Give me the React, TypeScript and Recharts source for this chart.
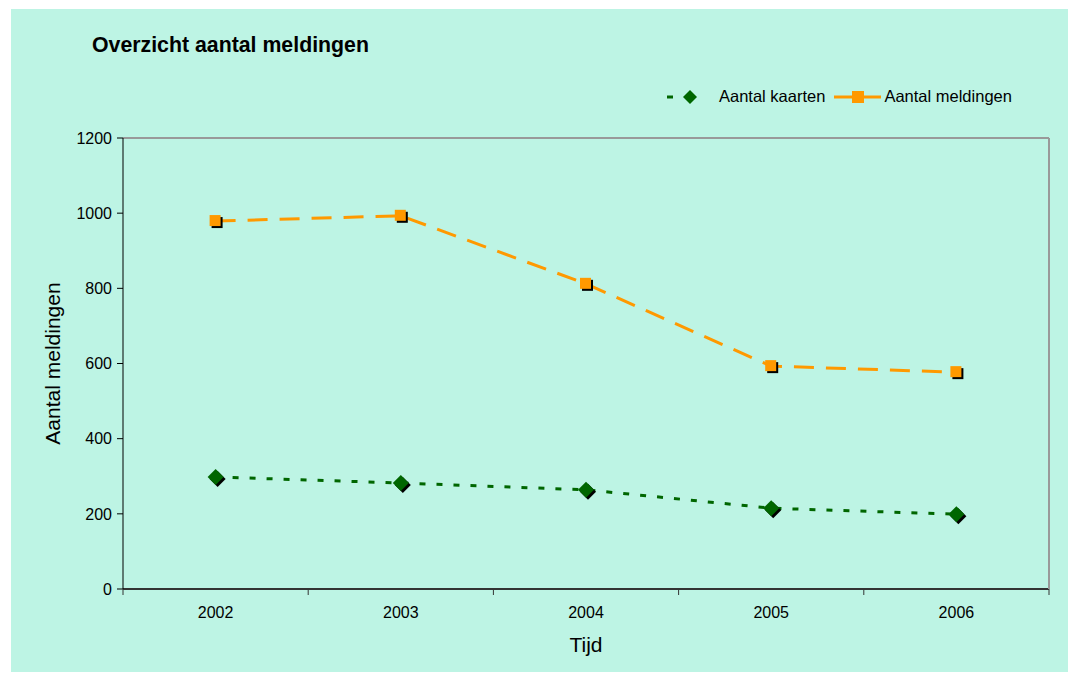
import { LineChart, Line, XAxis, YAxis, CartesianGrid, ReferenceLine, Label } from "recharts";

const years = ["2002", "2003", "2004", "2005", "2006"];
const kaarten = [298, 282, 264, 215, 199];
const meldingen = [979, 993, 812, 593, 577];
const yTicks = [0, 200, 400, 600, 800, 1000, 1200];

const data = years.map((year, i) => ({
  year,
  kaarten: kaarten[i],
  meldingen: meldingen[i],
}));

const W = 1057;
const H = 663;
const M = { top: 129, right: 18, left: 0, bottom: 0 };
const Y_W = 112;
const X_H = 83;
const band = (W - M.left - M.right - Y_W - 1) / years.length;
const font = "'Liberation Sans', Arial, sans-serif";

const SquareDot = (props: any) => {
  const { cx, cy } = props;
  if (cx == null || cy == null) return null;
  return (
    <g>
      <rect x={cx - 4} y={cy - 4} width={11} height={11} fill="#000" />
      <rect x={cx - 6} y={cy - 6} width={11} height={11} fill="#FF9900" />
    </g>
  );
};

const DiamondDot = (props: any) => {
  const { cx, cy } = props;
  if (cx == null || cy == null) return null;
  const d = (x: number, y: number) => `M${x} ${y - 8}L${x + 8} ${y}L${x} ${y + 8}L${x - 8} ${y}Z`;
  return (
    <g>
      <path d={d(cx + 2, cy + 2)} fill="#000" />
      <path d={d(cx, cy)} fill="#006600" />
    </g>
  );
};

const YearTick = (props: any) => {
  const { x, y, payload, index } = props;
  const top = y - 8;
  return (
    <g>
      <line x1={x - band / 2} x2={x - band / 2} y1={top} y2={top + 6} stroke="#333" />
      {index === years.length - 1 && (
        <line x1={x + band / 2} x2={x + band / 2} y1={top} y2={top + 6} stroke="#333" />
      )}
      <text x={x} y={y + 21} textAnchor="middle" fontSize={16} fill="#000" fontFamily={font}>
        {payload.value}
      </text>
    </g>
  );
};

const LegendBox = () => (
  <div
    style={{
      position: "absolute",
      left: 655,
      top: 78,
      display: "flex",
      alignItems: "center",
      fontFamily: font,
      fontSize: 16.5,
      color: "#000",
      whiteSpace: "nowrap",
    }}
  >
    <svg width={44} height={16}>
      <line x1={1} x2={44} y1={8} y2={8} stroke="#006600" strokeWidth={3} strokeDasharray="6 16" />
      <path d="M24 1L31 8L24 15L17 8Z" fill="#006600" />
    </svg>
    <span style={{ marginLeft: 9, marginRight: 9 }}>Aantal kaarten</span>
    <svg width={47} height={16}>
      <line x1={0} x2={47} y1={8} y2={8} stroke="#FF9900" strokeWidth={3} />
      <rect x={18} y={2} width={12} height={12} fill="#FF9900" />
    </svg>
    <span style={{ marginLeft: 3 }}>Aantal meldingen</span>
  </div>
);

export default function App() {
  return (
    <div
      style={{
        position: "absolute",
        left: 11,
        top: 9,
        width: W,
        height: H,
        background: "#BDF4E4",
      }}
    >
      <div
        style={{
          position: "absolute",
          left: 81,
          top: 24,
          fontFamily: font,
          fontWeight: "bold",
          fontSize: 21.3,
          color: "#000",
        }}
      >
        Overzicht aantal meldingen
      </div>
      <LegendBox />
      <LineChart width={W} height={H} data={data} margin={M}>
        <CartesianGrid vertical={false} stroke="#FFFFFF" strokeWidth={2} />
        <XAxis
          dataKey="year"
          scale="band"
          height={X_H}
          stroke="#333"
          axisLine={{ stroke: "#333", strokeWidth: 2 }}
          tickLine={false}
          tick={<YearTick />}
          interval={0}
        >
          <Label value="Tijd" position="insideBottom" offset={20} fontSize={21} fill="#000" fontFamily={font} />
        </XAxis>
        <YAxis
          yAxisId="left"
          width={Y_W}
          domain={[0, 1200]}
          ticks={yTicks}
          stroke="#000"
          tickSize={6}
          tick={{ fontSize: 16, fill: "#000", fontFamily: font, dx: -3 }}
        >
          <Label
            value="Aantal meldingen"
            angle={-90}
            position="insideLeft"
            offset={42}
            style={{ textAnchor: "middle" }}
            fontSize={21}
            fill="#000"
            fontFamily={font}
          />
        </YAxis>
        <YAxis
          yAxisId="right"
          orientation="right"
          width={1}
          domain={[0, 1200]}
          tick={false}
          tickLine={false}
          axisLine={{ stroke: "#999", strokeWidth: 2 }}
        />
        <ReferenceLine yAxisId="left" y={1200} stroke="#999" strokeWidth={2} />
        <Line
          yAxisId="left"
          dataKey="kaarten"
          stroke="#006600"
          strokeWidth={3}
          strokeDasharray="6 11"
          dot={<DiamondDot />}
          activeDot={false}
          isAnimationActive={false}
        />
        <Line
          yAxisId="left"
          dataKey="meldingen"
          stroke="#FF9900"
          strokeWidth={3}
          strokeDasharray="20 12"
          dot={<SquareDot />}
          activeDot={false}
          isAnimationActive={false}
        />
      </LineChart>
    </div>
  );
}
